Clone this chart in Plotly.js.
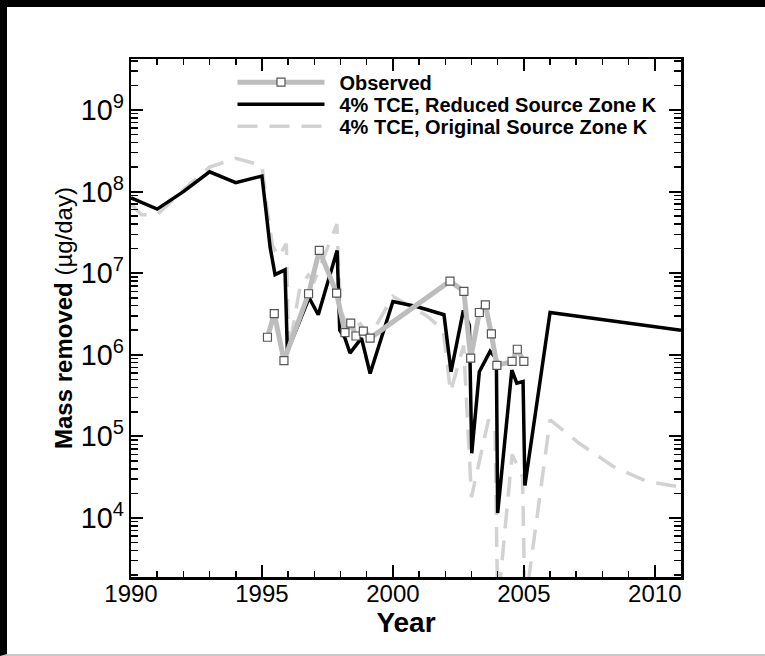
<!DOCTYPE html>
<html><head><meta charset="utf-8">
<script src="https://cdn.plot.ly/plotly-3.0.1.min.js"></script>
<style>
html,body{margin:0;padding:0;background:#fff;}
#wrap{position:relative;width:765px;height:656px;overflow:hidden;}
#chart{position:absolute;left:0;top:0;width:765px;height:656px;}
#frame{position:absolute;left:0;top:0;width:758px;height:647px;border-top:7px solid #000;border-left:7px solid #000;border-bottom:2px solid #c8c8c8;pointer-events:none;}
</style></head><body>
<div id="wrap"><div id="chart"></div><div id="frame"></div></div>
<script>
// Observed
const obsYears = [1995.21, 1995.47, 1995.84, 1996.78, 1997.19, 1997.85, 1998.17, 1998.39, 1998.59, 1998.87, 1999.13, 2002.18, 2002.71, 2002.97, 2003.30, 2003.53, 2003.76, 2003.97, 2004.55, 2004.75, 2005.0];
const obsMass = [1.64e6, 3.2e6, 8.5e5, 5.6e6, 1.9e7, 5.7e6, 1.87e6, 2.45e6, 1.7e6, 1.95e6, 1.6e6, 8.0e6, 6.0e6, 9.1e5, 3.3e6, 4.1e6, 1.8e6, 7.4e5, 8.3e5, 1.17e6, 8.3e5];
// 4% TCE, Reduced Source Zone K
const redYears = [1990.0, 1991.0, 1992.0, 1993.0, 1994.0, 1995.0, 1995.18, 1995.31, 1995.5, 1995.88, 1995.97, 1996.8, 1997.15, 1997.87, 1997.97, 1998.17, 1998.36, 1998.8, 1999.13, 2000.0, 2000.9, 2001.95, 2002.22, 2002.69, 2002.92, 2003.01, 2003.3, 2003.71, 2003.95, 2004.0, 2004.54, 2004.73, 2004.97, 2005.04, 2006.0, 2011.0];
const redMass = [8.4e7, 6.1e7, 1.0e8, 1.75e8, 1.29e8, 1.55e8, 4.9e7, 2.1e7, 9.6e6, 1.1e7, 1.1e6, 5.0e6, 3.1e6, 1.9e7, 2.0e6, 1.6e6, 1.05e6, 1.6e6, 5.9e5, 4.5e6, 3.9e6, 3.1e6, 6.2e5, 3.5e6, 2.3e6, 6.2e4, 6.2e5, 1.1e6, 9e5, 1.15e4, 6.5e5, 4.5e5, 4.7e5, 2.5e4, 3.3e6, 2.0e6];
// 4% TCE, Original Source Zone K
const origYears = [1990.0, 1990.4, 1991.0, 1992.0, 1993.0, 1994.0, 1995.0, 1995.2, 1995.4, 1995.63, 1995.93, 1996.02, 1996.45, 1996.77, 1997.0, 1997.86, 1998.0, 1998.35, 1998.75, 1999.13, 2000.0, 2001.3, 2001.92, 2002.2, 2002.7, 2003.0, 2003.65, 2003.9, 2004.0, 2004.55, 2004.95, 2005.04, 2006.0, 2007.1, 2008.4, 2009.7, 2011.0];
const origMass = [7.0e7, 5.2e7, 5.2e7, 1.05e8, 2.0e8, 2.55e8, 2.1e8, 6e7, 2.2e7, 1.6e7, 2.3e7, 1.1e6, 6.7e6, 9.5e6, 8e6, 4e7, 3.5e6, 2.0e6, 2.4e6, 1.7e6, 5.2e6, 3.0e6, 2.0e6, 3.5e5, 1.3e6, 1.8e4, 1.6e5, 1.2e5, 800, 6e4, 3.2e4, 800, 1.6e5, 8.3e4, 4.3e4, 2.8e4, 2.4e4];

const seriesNames = ['Observed', '4% TCE, Reduced Source Zone K', '4% TCE, Original Source Zone K'];
const xTickVals = [1990, 1995, 2000, 2005, 2010];

const FONT = 'Liberation Sans, Arial, Helvetica, sans-serif';
const LEG_GAP = 22;   // vertical spacing of legend rows
const LEG_LINE = 87;  // length of legend line samples

const traces = [
  {x: origYears, y: origMass, mode: 'lines', name: seriesNames[2], legendrank: 3,
   line: {color: '#d2d2d2', width: 3.5, dash: '20px,12px'}},
  {x: redYears, y: redMass, mode: 'lines', name: seriesNames[1], legendrank: 2,
   line: {color: '#000000', width: 3.5}},
  {x: obsYears, y: obsMass, mode: 'lines+markers', name: seriesNames[0], legendrank: 1,
   line: {color: '#bdbdbd', width: 5},
   marker: {symbol: 'square', size: 8, color: '#ffffff', line: {color: '#555555', width: 1.2}}}
];

const axisCommon = {
  showline: true, linewidth: 2.5, linecolor: '#000', mirror: 'allticks',
  ticks: 'inside', ticklen: 12, tickwidth: 2, tickcolor: '#000',
  showgrid: false, zeroline: false,
  tickfont: {family: FONT, size: 24, color: '#000'}
};

const layout = {
  width: 765, height: 656,
  margin: {l: 131, r: 84, t: 59, b: 79, pad: 0},
  paper_bgcolor: '#fff', plot_bgcolor: '#fff',
  font: {family: FONT, color: '#000'},
  showlegend: true,
  legend: {x: 0.1845, y: 0.993, xanchor: 'left', yanchor: 'top', bgcolor: 'rgba(0,0,0,0)',
           font: {family: FONT, size: 20, color: '#000', weight: 'bold'}, itemwidth: 97, traceorder: 'normal'},
  xaxis: Object.assign({}, axisCommon, {
    range: [1990, 2011], tickmode: 'array', tickvals: xTickVals, ticktext: xTickVals.map(String),
    ticklabelstandoff: -6,
    minor: {ticks: 'inside', dtick: 1, tick0: 1990, ticklen: 6, tickwidth: 1.5, tickcolor: '#000', showgrid: false},
    title: {text: '<b>Year</b>', font: {family: FONT, size: 28, color: '#000'}, standoff: 0}
  }),
  yaxis: Object.assign({}, axisCommon, {
    type: 'log', range: [3.277, 9.625], dtick: 1, exponentformat: 'power',
    tickfont: {family: FONT, size: 23, color: '#000'},
    minor: {ticks: 'inside', dtick: 'D1', ticklen: 7, tickwidth: 1.5, tickcolor: '#000', showgrid: false},
    title: {text: '<b>Mass removed</b> (µg/day)', font: {family: FONT, size: 24, color: '#000'}, standoff: 2}
  })
};

function tightenLegend(gd) {
  try {
    const parse = t => { const m = /translate\(\s*([-\d.]+)[ ,]+([-\d.]+)/.exec(t || ''); return m ? [parseFloat(m[1]), parseFloat(m[2])] : [0, 0]; };
    const items = Array.from(gd.querySelectorAll('.legend g.traces'));
    if (!items.length) return;
    items.sort((a, b) => parse(a.getAttribute('transform'))[1] - parse(b.getAttribute('transform'))[1]);
    const p0 = parse(items[0].getAttribute('transform'));
    items.forEach((g, i) => {
      const p = parse(g.getAttribute('transform'));
      g.setAttribute('transform', 'translate(' + p[0] + ',' + (p0[1] + i * LEG_GAP) + ')');
      let sx = 5;
      g.querySelectorAll('.legendlines path').forEach(path => {
        const m = /^M\s*([-\d.]+)/.exec(path.getAttribute('d') || '');
        if (m) sx = parseFloat(m[1]);
        path.setAttribute('d', 'M' + sx + ',0h' + LEG_LINE);
      });
      g.querySelectorAll('.legendpoints path').forEach(pt => {
        pt.setAttribute('transform', 'translate(' + (sx + LEG_LINE / 2) + ',0)');
      });
    });
  } catch (e) {}
}

Plotly.newPlot('chart', traces, layout, {staticPlot: true, displayModeBar: false}).then(tightenLegend);
</script>
</body></html>
